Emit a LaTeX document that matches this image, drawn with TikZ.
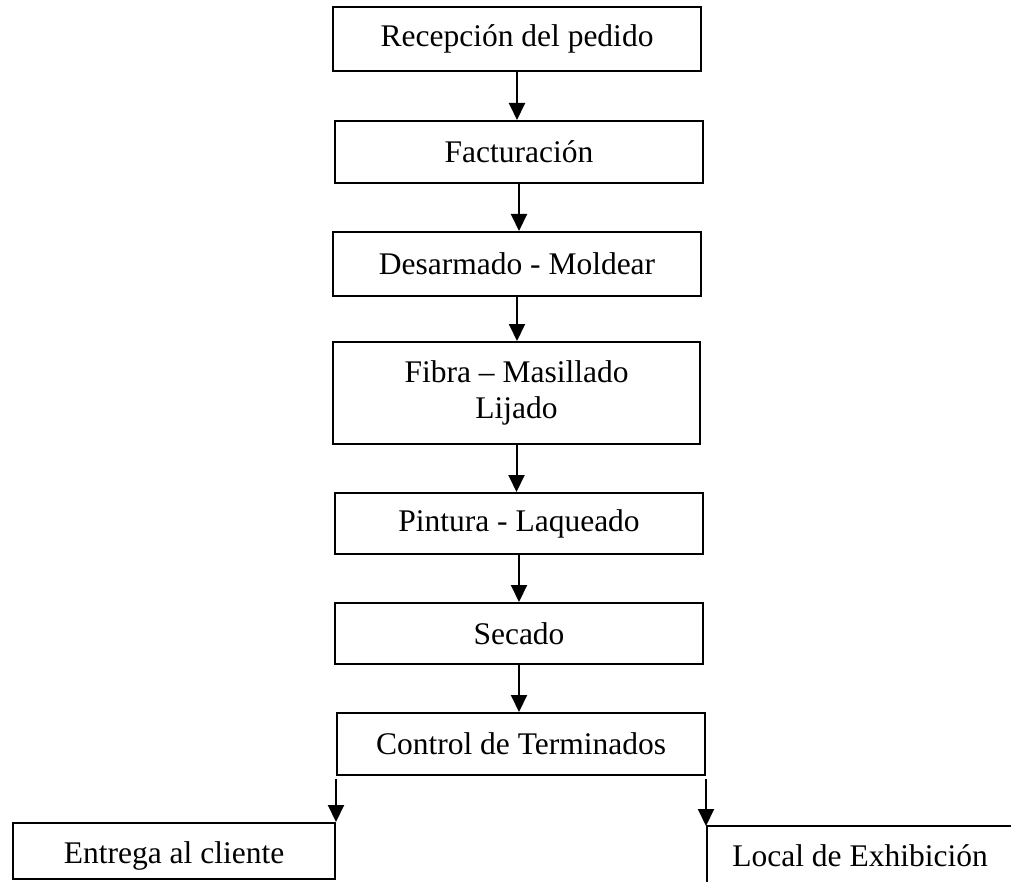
\documentclass[tikz,border=0pt]{standalone}
\usepackage{fontspec}
\setmainfont{Liberation Serif}
\usetikzlibrary{arrows.meta}
\begin{document}
\begin{tikzpicture}[x=1pt,y=-1pt,
  box/.style={draw=black,line width=2pt,inner sep=0pt,minimum width=368pt,align=center,
    font=\fontsize{31.5}{36}\selectfont},
  flow/.style={line width=2pt,-{Triangle[width=16pt,length=17pt]}},
  edge/.style={line width=2pt},
  lbl/.style={inner sep=0pt,font=\fontsize{31.5}{36}\selectfont}]
\useasboundingbox (0,0) rectangle (1011,882);
\node[box,minimum height=64pt] (b1) at (517,39) {Recepción del pedido};
\node[box,minimum height=62pt] (b2) at (519,152) {Facturación};
\node[box,minimum height=64pt] (b3) at (517,264) {Desarmado - Moldear};
\node[box,minimum height=102pt,minimum width=367pt] (b4) at (516.5,393) {Fibra – Masillado\\Lijado};
\node[box,minimum height=61pt] (b5) at (519,523.5) {Pintura - Laqueado};
\node[box,minimum height=61pt] (b6) at (519,633.5) {Secado};
\node[box,minimum height=62pt] (b7) at (521,744) {Control de Terminados};
\node[box,minimum height=56pt,minimum width=322pt] (ent) at (174,851) {\raisebox{-5pt}[\height][\depth]{Entrega al cliente}};
\coordinate (loc) at (707,826);
\coordinate (locb) at (707,884);
\coordinate (locr) at (1013,826);
\node[lbl] (loctxt) at (860,856) {Local de Exhibición};
\draw[edge] (locb) -- (loc) -- (locr);
\draw[flow] (b1.south) -- (b1.south |- b2.north);
\draw[flow] (b2.south) -- (b2.south |- b3.north);
\draw[flow] (b3.south) -- (b3.south |- b4.north);
\draw[flow] (b4.south) -- (b4.south |- b5.north);
\draw[flow] (b5.south) -- (b5.south |- b6.north);
\draw[flow] (b6.south) -- (b6.south |- b7.north);
\draw[flow] ([yshift=-3pt]b7.south west) -- (b7.south west |- ent.north east);
\draw[flow] ([yshift=-3pt]b7.south east) -- (b7.south east |- loc);
\end{tikzpicture}
\end{document}
